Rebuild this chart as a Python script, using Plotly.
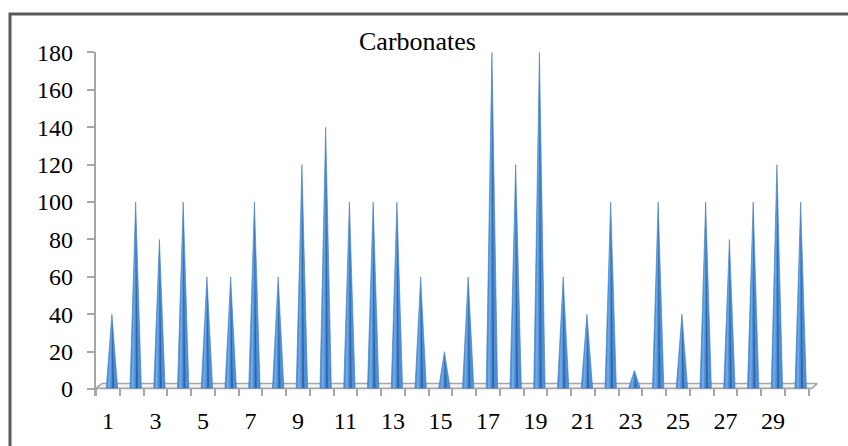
import plotly.graph_objects as go

categories = list(range(1, 31))
values = [40, 100, 80, 100, 60, 60, 100, 60, 120, 140,
          100, 100, 100, 60, 20, 60, 180, 120, 180, 60,
          40, 100, 10, 100, 40, 100, 80, 100, 120, 100]
y_ticks = [0, 20, 40, 60, 80, 100, 120, 140, 160, 180]
x_tick_labels = [1, 3, 5, 7, 9, 11, 13, 15, 17, 19, 21, 23, 25, 27, 29]
title_text = "Carbonates"

W, H = 848, 446
ML, MR, MT, MB = 96, 28, 52, 46
plot_w = W - ML - MR
plot_h = H - MT - MB
unit_px = 23.75
y0_px, y180_px = 393.0, 52.5
py = (y0_px - y180_px) / 180.0
x_range = [0.5, 0.5 + plot_w / unit_px]
y_range = [-(H - MB - y0_px) / py, 180 + (y180_px - MT) / py]

def px_to_y(p):
    return (y0_px - p) / py

def paper_y(p):
    return (H - MB - p) / plot_h

def paper_x(p):
    return (p - ML) / plot_w

fig = go.Figure()

# floor slab
fb = px_to_y(392.3)
ft = px_to_y(387.3)
floor_x = [0.5, 30.65, 30.87, 0.75, 0.5]
floor_y = [fb, fb, ft, ft, fb]
fig.add_trace(go.Scatter(x=floor_x, y=floor_y, mode="lines", fill="toself",
                         fillcolor="#f4f4f4", line=dict(color="#a6a6a6", width=1.6),
                         hoverinfo="skip", showlegend=False))

# cones
shift = 0.17
hw = 0.24
base = px_to_y(392.0)
for c, v in zip(categories, values):
    cx = c + shift
    fig.add_trace(go.Scatter(x=[cx - hw, cx, cx + hw, cx - hw], y=[base, v, base, base],
                             mode="lines", fill="toself", fillcolor="#4f90d8",
                             line=dict(color="#3c78bd", width=0.6),
                             hoverinfo="skip", showlegend=False))
    fig.add_trace(go.Scatter(x=[cx - hw * 0.7, cx, cx - hw * 0.3, cx - hw * 0.7],
                             y=[base, v, base, base],
                             mode="lines", fill="toself", fillcolor="#6eaae6",
                             line=dict(width=0), hoverinfo="skip", showlegend=False))
    fig.add_trace(go.Scatter(x=[cx + hw * 0.05, cx, cx + hw * 0.4, cx + hw * 0.05],
                             y=[base, v, base, base],
                             mode="lines", fill="toself", fillcolor="#3166a6",
                             line=dict(width=0), hoverinfo="skip", showlegend=False))

font_serif = "Liberation Serif"

fig.update_layout(
    width=W, height=H,
    margin=dict(l=ML, r=MR, t=MT, b=MB, pad=0),
    paper_bgcolor="white", plot_bgcolor="white",
    font=dict(family=font_serif),
    title=dict(text=title_text, x=417.5 / W, y=1 - 41 / H, xref="container",
               yref="container", xanchor="center", yanchor="middle",
               font=dict(family=font_serif, size=26, color="black")),
    xaxis=dict(range=x_range, showgrid=False, zeroline=False, showline=False,
               anchor="free", position=paper_y(392.3),
               tickmode="array", tickvals=x_tick_labels,
               ticktext=[str(t) for t in x_tick_labels], ticks="",
               ticklabelstandoff=16,
               tickfont=dict(family=font_serif, size=24, color="black"),
               minor=dict(tickmode="array",
                          tickvals=[c - 0.5 for c in categories] + [30.5],
                          ticks="outside", ticklen=7, tickwidth=1.5,
                          tickcolor="#a6a6a6")),
    yaxis=dict(range=y_range, showgrid=False, zeroline=False,
               showline=True, linecolor="#a6a6a6", linewidth=2.2,
               tickmode="array", tickvals=y_ticks, ticks="outside",
               ticklen=7, tickwidth=1.5, tickcolor="#a6a6a6",
               ticklabelstandoff=9,
               tickfont=dict(family=font_serif, size=24, color="black")),
    shapes=[dict(type="rect", xref="paper", yref="paper",
                 x0=paper_x(10), x1=paper_x(880),
                 y0=paper_y(480), y1=paper_y(13.5),
                 line=dict(color="#5a5a5a", width=3), fillcolor="rgba(0,0,0,0)",
                 layer="above")],
)

fig.write_html("out.html")
